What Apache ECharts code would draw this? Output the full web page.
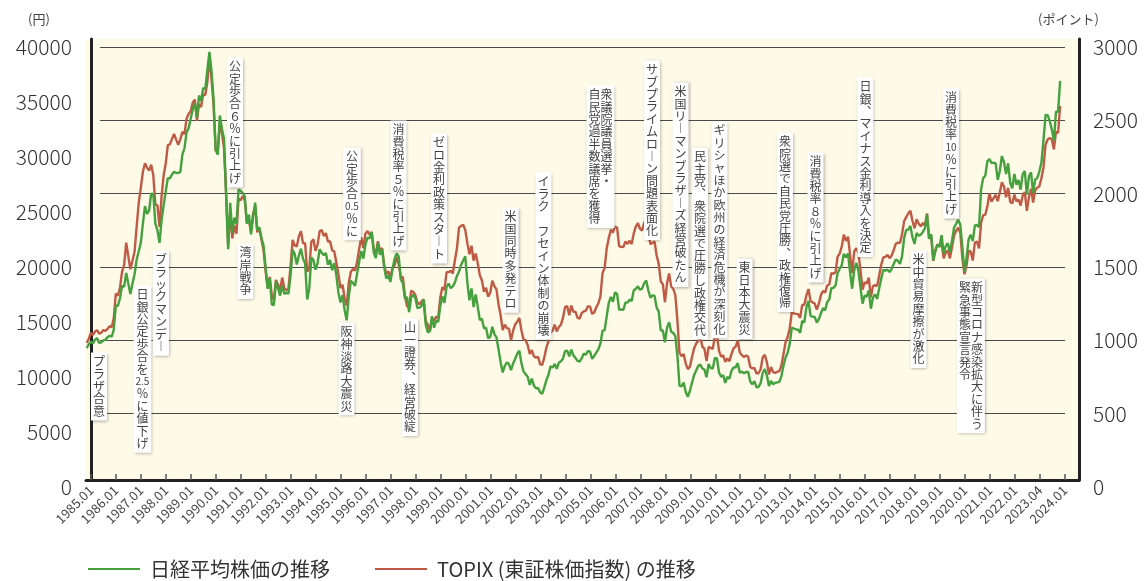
<!DOCTYPE html>
<html><head><meta charset="utf-8">
<script src="https://cdn.jsdelivr.net/npm/echarts@6/dist/echarts.min.js"></script>
<style>html,body{margin:0;padding:0;background:#fff}#c{width:1147px;height:581px}</style>
</head><body><div id="c"></div>
<script>
// ---- data ----
const startYear = 1985; // first month: 1985.01, monthly values
const tickLabels = ['1985.01','1986.01','1987.01','1988.01','1989.01','1990.01','1991.01','1992.01','1993.01','1994.01',
  '1995.01','1996.01','1997.01','1998.01','1999.01','2000.01','2001.01','2002.01','2003.01','2004.01',
  '2005.01','2006.01','2007.01','2008.01','2009.01','2010.01','2011.01','2012.01','2013.01','2014.01',
  '2015.01','2016.01','2017.01','2018.01','2019.01','2020.01','2021.01','2022.01','2023.04','2024.01'];
const seriesNames = ['日経平均株価の推移', 'TOPIX (東証株価指数) の推移'];
const unitLeft = '(円)';
const unitRight = '(ポイント)';

const nikkei = [
 11992,12322,12580,12426,12759,12882,12461,12506,12700,12747,12977,13113,
 13024,13640,15859,15826,16522,17654,17569,18820,17852,16910,17852,18701,
 20024,20766,21566,23275,24901,24176,24488,26029,26011,23329,22687,21564,
 23622,24985,26260,27434,27417,27769,28019,27911,27924,27983,29579,30159,
 31581,31986,32839,33713,34267,32948,34954,34431,35637,35549,37269,38916,
 37189,34592,29980,29585,33131,31940,31036,25978,20984,25194,22455,23849,
 23293,26409,26292,26111,25790,23291,24121,22336,23916,25222,22687,22984,
 22023,21339,19346,17391,18348,15952,15910,18061,17399,16768,17684,16925,
 17024,16953,18591,20920,20552,19590,20380,21027,20106,19703,16408,17417,
 20229,19997,19112,19725,20974,20644,20449,20629,19564,19990,19076,19723,
 18650,17053,16140,16807,15437,14517,16678,18117,17913,17655,18744,19868,
 20813,20125,21407,22041,21956,22531,20693,20167,21556,20467,21020,19361,
 18330,18557,18003,19151,20069,20605,20331,18229,17888,16459,16633,15259,
 16628,16831,16527,15641,15671,15830,16379,14108,13406,13565,14884,13842,
 14499,14368,15837,16702,16112,17530,17862,17437,17605,17943,18558,18934,
 19540,19960,20337,17974,16332,17411,15727,16861,15747,14540,14649,13786,
 13844,12884,12999,13934,13262,12969,11861,10714,9775,10366,10697,10543,
 9998,10588,11025,11493,11764,10622,9877,9619,9383,8640,9216,8579,
 8340,8363,7973,7831,8425,9083,9563,10344,10219,10560,10101,10677,
 10784,11042,11715,11762,11236,11858,11326,11082,10824,10771,11073,11489,
 11388,11741,11669,11009,11277,11584,11900,12414,13574,13607,14872,16111,
 16650,16206,17060,16907,15467,15505,15457,16141,16128,16399,16274,17226,
 17383,17604,17288,17400,17876,18138,17249,16569,16786,16737,15681,15308,
 13593,13603,12526,13850,14339,13481,13377,13073,11260,8577,8512,8860,
 7994,7568,8110,8828,9523,9958,10357,10493,10133,10035,9346,10546,
 10198,10126,11090,11057,9769,9383,9537,8824,9369,9202,9937,10229,
 10238,10624,9755,9850,9694,9816,9833,8955,8700,8988,8435,8455,
 8803,9723,10084,9521,8543,9007,8695,8840,8870,8928,9446,10395,
 11139,11559,12398,13861,13775,13677,13668,13389,14456,14328,15662,16291,
 14915,14841,14828,14304,14632,15162,15621,15425,16174,16414,17460,17451,
 17674,18798,19207,19520,20563,20236,20585,18890,17388,19083,19747,19034,
 17518,16027,16759,16666,17235,15576,16569,16887,16450,17425,18308,19114,
 19041,19119,18909,19197,19651,20033,19925,19646,20356,22012,22725,22765,
 23098,22068,21454,22468,22202,22305,22554,22865,24120,21920,22351,20015,
 20773,21385,21206,22259,20601,21276,21522,20704,21756,22927,23294,23657,
 23205,21143,18917,20194,21878,22288,21710,23140,23185,22977,26434,27444,
 27663,28966,29179,28813,28860,28792,27284,28090,29453,28893,27822,28792,
 27002,26527,27821,26848,27280,26393,27802,28092,25937,27587,27969,26095,
 27327,27446,28041,28856,30888,33189,33172,32619,31858,30859,33487,33464,
 36287
];

const topix = [
 935,963,1003,989,1012,1021,998,1004,1022,1017,1030,1049,
 1041,1103,1271,1256,1311,1421,1466,1618,1526,1437,1495,1556,
 1724,1887,1990,2100,2160,2130,2110,2150,2080,1879,1873,1725,
 1934,2078,2158,2283,2288,2326,2359,2321,2285,2322,2374,2357,
 2463,2495,2514,2574,2593,2448,2565,2543,2629,2625,2711,2881,
 2737,2555,2247,2239,2426,2367,2265,1967,1590,1834,1647,1734,
 1680,1918,1907,1936,1906,1756,1768,1692,1818,1862,1689,1715,
 1640,1568,1426,1306,1385,1258,1230,1364,1331,1299,1380,1308,
 1293,1305,1457,1637,1600,1592,1661,1696,1614,1615,1422,1439,
 1624,1641,1563,1605,1697,1703,1664,1683,1625,1628,1566,1559,
 1485,1404,1308,1331,1239,1188,1345,1420,1438,1429,1487,1577,
 1653,1582,1679,1697,1672,1692,1578,1538,1628,1564,1581,1470,
 1403,1423,1380,1444,1463,1519,1471,1385,1383,1255,1186,1175,
 1291,1282,1260,1210,1198,1218,1231,1084,1060,1012,1100,1087,
 1112,1107,1244,1314,1295,1416,1417,1426,1408,1495,1580,1722,
 1733,1740,1705,1615,1539,1597,1496,1544,1478,1397,1360,1283,
 1311,1250,1277,1359,1322,1300,1197,1123,1023,1059,1035,1032,
 953,1018,1060,1080,1105,1021,958,953,921,859,886,843,
 834,840,788,785,836,903,946,1007,1018,1060,1013,1043,
 1059,1107,1179,1186,1124,1189,1146,1147,1105,1101,1139,1150,
 1155,1185,1182,1133,1142,1178,1205,1254,1412,1445,1579,1650,
 1706,1687,1728,1719,1593,1590,1588,1626,1610,1631,1609,1681,
 1727,1752,1713,1701,1754,1774,1690,1608,1616,1627,1531,1475,
 1354,1335,1212,1339,1408,1320,1304,1259,1087,867,845,859,
 794,756,773,837,897,929,950,971,909,894,811,907,
 901,894,978,987,881,841,850,805,829,810,860,898,
 910,951,869,851,838,849,841,770,761,764,728,728,
 755,835,854,804,719,770,736,731,737,742,781,859,
 940,975,1034,1145,1136,1133,1131,1106,1194,1194,1258,1302,
 1220,1211,1203,1162,1202,1262,1289,1277,1326,1333,1410,1407,
 1415,1523,1543,1592,1673,1630,1659,1537,1411,1558,1580,1547,
 1432,1297,1347,1340,1379,1245,1322,1329,1322,1393,1469,1518,
 1521,1535,1512,1531,1568,1611,1618,1617,1675,1765,1792,1817,
 1836,1768,1716,1777,1747,1730,1753,1735,1817,1646,1667,1494,
 1567,1607,1591,1617,1512,1551,1565,1511,1587,1667,1699,1721,
 1684,1511,1403,1464,1563,1558,1496,1618,1625,1579,1754,1805,
 1808,1864,1954,1898,1922,1944,1901,1960,2030,2001,1928,1992,
 1896,1886,1946,1899,1912,1871,1940,1963,1835,1929,1985,1892,
 1975,1993,2003,2057,2131,2288,2322,2332,2323,2254,2374,2366,
 2551
];

// annotations: columns of vertical text (first column = rightmost), month index, value (left axis) of box top
const annotations = [
  { cols: ['プラザ合意'], m: 5.9, v: 11636 },
  { cols: ['日銀公定歩合を{2.5}％に値下げ'], m: 26.8, v: 17727 },
  { cols: ['ブラックマンデー'], m: 35.7, v: 20909 },
  { cols: ['公定歩合６％に引上げ'], m: 71.3, v: 38454 },
  { cols: ['湾岸戦争'], m: 76.3, v: 21545 },
  { cols: ['公定歩合{0.5}％に'], m: 127.5, v: 30273 },
  { cols: ['阪神淡路大震災'], m: 124.9, v: 14364 },
  { cols: ['消費税率５％に引上げ'], m: 149.9, v: 32727 },
  { cols: ['山一證券、経営破綻'], m: 155.4, v: 14727 },
  { cols: ['ゼロ金利政策スタート'], m: 169.4, v: 31545 },
  { cols: ['米国同時多発テロ'], m: 203.8, v: 24818 },
  { cols: ['イラク フセイン体制の崩壊'], m: 219.6, v: 28000 },
  { cols: ['衆議院議員選挙・', '自民党過半数議席を獲得'], m: 247.0, v: 35909 },
  { cols: ['サブプライムローン問題表面化'], m: 271.8, v: 38182 },
  { cols: ['米国リーマンブラザーズ経営破たん'], m: 285.5, v: 36182 },
  { cols: ['民主党、衆院選で圧勝し政権交代'], m: 294.9, v: 30273 },
  { cols: ['ギリシャほか欧州の経済危機が深刻化'], m: 304.2, v: 32636 },
  { cols: ['東日本大震災'], m: 316.3, v: 20182 },
  { cols: ['衆院選で自民党圧勝、政権復帰'], m: 335.7, v: 31636 },
  { cols: ['消費税率８％に引上げ'], m: 350.4, v: 29818 },
  { cols: ['日銀、マイナス金利導入を決定'], m: 374.4, v: 36636 },
  { cols: ['米中貿易摩擦が激化'], m: 399.9, v: 20909 },
  { cols: ['消費税率{10}％に引上げ'], m: 415.5, v: 35636 },
  { cols: ['新型コロナ感染拡大に伴う', '緊急事態宣言発令'], m: 425.1, v: 18364 }
];

// ---- helpers ----
function tokens(s) {
  const out = []; let i = 0;
  while (i < s.length) {
    if (s[i] === '{') { const j = s.indexOf('}', i); out.push('{t|' + s.slice(i + 1, j) + '}'); i = j + 1; }
    else {
      let c = s[i];
      if (c === 'ー') c = '︱';
      if (c === '、') c = '︑';
      if (c === ' ') c = '　';
      out.push(c); i++;
    }
  }
  return out;
}
function vText(cols) {
  const tc = cols.map(tokens);
  const n = Math.max(...tc.map(a => a.length));
  const rows = [];
  for (let r = 0; r < n; r++) {
    let row = '';
    for (let c = tc.length - 1; c >= 0; c--) row += (tc[c][r] !== undefined ? tc[c][r] : '　');
    rows.push(row);
  }
  return rows.join('\n');
}

const FONT = "'Noto Sans CJK JP', 'Noto Sans', sans-serif";
const GREEN = '#45a03e';
const RED = '#bf5b45';

const chart = echarts.init(document.getElementById('c'), null, { renderer: 'canvas' });
const tickIdx = tickLabels.map((_, i) => i);
const plain = v => String(v);

const option = {
  animation: false,
  textStyle: { fontFamily: FONT },
  grid: [
    { left: 86, top: 39, width: 993, height: 441, show: true, backgroundColor: '#fefae8', borderWidth: 0 }, // frame
    { left: 86, top: 47, width: 993, height: 440 },   // axis labels
    { left: 100, top: 47, width: 965, height: 440 },  // grid lines
    { left: 86.7, top: 40, width: 2.08 * (nikkei.length - 1), height: 440 } // data
  ],
  xAxis: [
    { gridIndex: 0, type: 'value', min: -0.2002, max: 39.567,
      axisLine: { show: true, lineStyle: { color: '#222', width: 3 } },
      axisTick: { show: true, inside: true, length: 6, customValues: tickIdx, lineStyle: { color: '#555', width: 1.5 } },
      axisLabel: { show: true, customValues: tickIdx, rotate: 45, margin: 8, fontSize: 13, color: '#444',
        formatter: v => tickLabels[Math.round(v)] },
      splitLine: { show: false } },
    { gridIndex: 1, type: 'value', show: false },
    { gridIndex: 2, type: 'value', show: false },
    { gridIndex: 3, type: 'value', show: false, min: 0, max: nikkei.length - 1 }
  ],
  yAxis: [
    { gridIndex: 0, type: 'value', min: 0, max: 1, position: 'left',
      axisLine: { show: true, lineStyle: { color: '#222', width: 3 } },
      axisTick: { show: false }, axisLabel: { show: false }, splitLine: { show: false } },
    { gridIndex: 0, type: 'value', min: 0, max: 1, position: 'right',
      axisLine: { show: true, lineStyle: { color: '#222', width: 3 } },
      axisTick: { show: false }, axisLabel: { show: false }, splitLine: { show: false } },
    { gridIndex: 1, type: 'value', min: 0, max: 40000, interval: 5000, position: 'left',
      axisLine: { show: false }, axisTick: { show: false }, splitLine: { show: false },
      axisLabel: { margin: 14, fontSize: 21, color: '#333', fontWeight: 300, formatter: plain } },
    { gridIndex: 1, type: 'value', min: 0, max: 3000, interval: 500, position: 'right',
      axisLine: { show: false }, axisTick: { show: false }, splitLine: { show: false },
      axisLabel: { margin: 14, fontSize: 21, color: '#333', fontWeight: 300, formatter: plain } },
    { gridIndex: 2, type: 'value', min: 0, max: 3000, interval: 500,
      axisLine: { show: false }, axisTick: { show: false }, axisLabel: { show: false },
      splitLine: { show: true, showMinLine: false, lineStyle: { color: '#4a4a4a', width: 1.2 } } },
    { gridIndex: 3, type: 'value', min: 0, max: 40000, show: false, splitLine: { show: false } },
    { gridIndex: 3, type: 'value', min: 0, max: 3000, show: false, splitLine: { show: false } }
  ],
  legend: {
    left: 88, top: 559, padding: 0, itemWidth: 52, itemHeight: 2, itemGap: 45, icon: 'rect',
    textStyle: { fontSize: 20, color: '#333', padding: [0, 0, 0, 5] },
    data: [seriesNames[0], seriesNames[1]]
  },
  graphic: [
    { type: 'text', left: 28, top: 13, style: { text: unitLeft, fontSize: 13, fill: '#444', fontFamily: FONT } },
    { type: 'text', left: 1038, top: 13, style: { text: unitRight, fontSize: 13, fill: '#444', fontFamily: FONT } }
  ],
  series: [
    { name: seriesNames[1], type: 'line', xAxisIndex: 3, yAxisIndex: 6, showSymbol: false, symbol: 'none',
      color: RED, lineStyle: { width: 2.4, color: RED }, z: 3,
      data: topix.map((v, i) => [i, v]) },
    { name: seriesNames[0], type: 'line', xAxisIndex: 3, yAxisIndex: 5, showSymbol: false, symbol: 'none',
      color: GREEN, lineStyle: { width: 2.4, color: GREEN }, z: 4,
      data: nikkei.map((v, i) => [i, v]),
      markPoint: {
        symbol: 'rect', symbolSize: 1, itemStyle: { color: 'rgba(0,0,0,0)' }, z: 10,
        label: {
          show: true, position: 'bottom', distance: 0, fontSize: 12, lineHeight: 12.4, color: '#444',
          align: 'center', backgroundColor: '#fff', padding: [3, 2, 3, 2],
          shadowBlur: 3, shadowColor: 'rgba(0,0,0,0.35)', shadowOffsetX: 1, shadowOffsetY: 1,
          rich: { t: { fontSize: 10, lineHeight: 12.4, color: '#444' } }
        },
        data: annotations.map(a => ({ coord: [a.m, a.v], label: { formatter: vText(a.cols) } }))
      } }
  ]
};
chart.setOption(option);
</script></body></html>
